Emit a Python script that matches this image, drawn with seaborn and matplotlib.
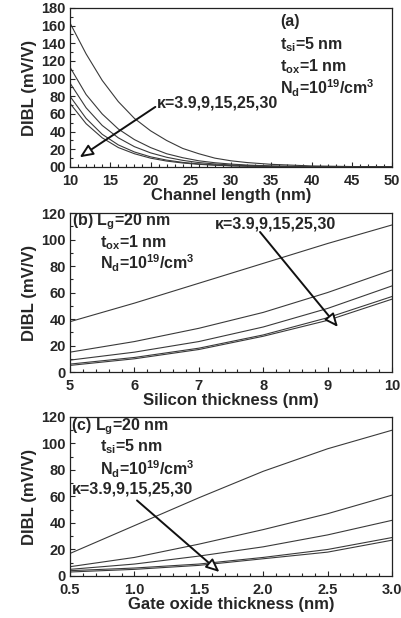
import numpy as np
import pandas as pd
import matplotlib
matplotlib.use("Agg")
import matplotlib.pyplot as plt
from matplotlib.ticker import MultipleLocator
import seaborn as sns

kappas = ["3.9", "9", "15", "25", "30"]

# Panel (a): DIBL vs channel length
lg_a = [10, 12, 14, 16, 18, 20, 22, 24, 26, 28, 30, 32, 35, 40, 45, 50]
dibl_a = {
    "3.9": [163, 128, 98, 74, 55, 41, 30, 21, 15, 10, 7, 5, 3, 1.2, 0.5, 0.2],
    "9":   [113, 82, 60, 43, 31, 22, 15, 10.5, 7, 4.8, 3.3, 2.2, 1.2, 0.4, 0.15, 0.05],
    "15":  [95, 67, 47, 33, 23, 16, 11, 7.5, 5, 3.4, 2.3, 1.5, 0.8, 0.25, 0.08, 0.03],
    "25":  [80, 55, 37, 25, 17, 11.5, 7.8, 5.2, 3.5, 2.3, 1.5, 1.0, 0.5, 0.15, 0.05, 0.02],
    "30":  [72, 49, 33, 22, 15, 10, 6.7, 4.5, 3, 2, 1.3, 0.9, 0.45, 0.12, 0.04, 0.01],
}
# Panel (b): DIBL vs silicon thickness
tsi_b = [5, 6, 7, 8, 9, 10]
dibl_b = {
    "3.9": [38, 52, 67, 82, 97, 111],
    "9":   [15, 23, 33, 45, 60, 77],
    "15":  [9, 15, 23, 34, 48, 65],
    "25":  [6, 11, 18, 28, 41, 57],
    "30":  [5, 10, 17, 27, 39, 55],
}
# Panel (c): DIBL vs gate oxide thickness
tox_c = [0.5, 1.0, 1.5, 2.0, 2.5, 3.0]
dibl_c = {
    "3.9": [17, 38, 59, 79, 96, 110],
    "9":   [7, 14, 24, 35, 47, 61],
    "15":  [5, 9, 15, 22, 31, 42],
    "25":  [4, 6, 9, 14, 20, 29],
    "30":  [3, 5, 8, 13, 18, 27],
}

sns.set_style("ticks")
plt.rcParams["font.family"] = ["Liberation Sans", "DejaVu Sans"]
plt.rcParams["font.weight"] = "bold"
plt.rcParams["axes.labelweight"] = "bold"
plt.rcParams["mathtext.fontset"] = "custom"
plt.rcParams["mathtext.rm"] = "Liberation Sans:bold"
plt.rcParams["mathtext.bf"] = "Liberation Sans:bold"
plt.rcParams["mathtext.it"] = "Liberation Sans:bold"


def long_df(x, d):
    rows = []
    for k in kappas:
        for xi, yi in zip(x, d[k]):
            rows.append({"x": xi, "y": yi, "kappa": k})
    return pd.DataFrame(rows)


fig = plt.figure(figsize=(4.01, 6.18), dpi=100)
W = 0.803
H = 0.2573
axa = fig.add_axes([0.1746, 0.7298, W, H])
axb = fig.add_axes([0.1746, 0.398, W, H])
axc = fig.add_axes([0.1746, 0.068, W, H])

TICK_FS = 10.5
LAB_FS = 12
fs = 11.5

pal = {k: "#3a3a3a" for k in kappas}
for ax, x, d in [(axa, lg_a, dibl_a), (axb, tsi_b, dibl_b), (axc, tox_c, dibl_c)]:
    sns.lineplot(data=long_df(x, d), x="x", y="y", hue="kappa", palette=pal,
                 estimator=None, legend=False, linewidth=0.8, ax=ax)
    ax.tick_params(direction="in", which="both", labelsize=TICK_FS, width=0.8)
    ax.tick_params(which="major", length=3.5)
    ax.tick_params(axis="x", which="major", pad=5)
    ax.tick_params(axis="y", which="major", pad=3)
    ax.tick_params(which="minor", length=2)
    for s in ax.spines.values():
        s.set_linewidth(0.9)
        s.set_color("#222222")
    ax.set_ylabel("DIBL (mV/V)", fontsize=LAB_FS, fontweight="bold", labelpad=3)

# Panel (a)
axa.set_xlim(10, 50)
axa.set_ylim(0, 180)
axa.set_xticks(range(10, 51, 5))
axa.set_yticks(range(0, 181, 20))
axa.set_yticklabels(["00"] + [str(v) for v in range(20, 181, 20)], fontweight="bold")
axa.set_xticklabels([str(v) for v in range(10, 51, 5)], fontweight="bold")
axa.xaxis.set_minor_locator(MultipleLocator(1))
axa.yaxis.set_minor_locator(MultipleLocator(10))
axa.set_xlabel("Channel length (nm)", fontsize=LAB_FS, fontweight="bold", labelpad=0)
axa.text(0.652, 0.912, "(a)", transform=axa.transAxes, fontsize=fs, fontweight="bold", va="center")
axa.text(0.652, 0.767, r"t$_\mathregular{si}$=5 nm", transform=axa.transAxes, fontsize=fs, fontweight="bold", va="center")
axa.text(0.652, 0.629, r"t$_\mathregular{ox}$=1 nm", transform=axa.transAxes, fontsize=fs, fontweight="bold", va="center")
axa.text(0.652, 0.497, r"N$_\mathregular{d}$=10$^\mathregular{19}$/cm$^\mathregular{3}$", transform=axa.transAxes, fontsize=fs, fontweight="bold", va="center")
axa.text(0.27, 0.40, "κ=3.9,9,15,25,30", transform=axa.transAxes, fontsize=fs, fontweight="bold", va="center")
arrow = dict(arrowstyle="-|>,head_length=0.8,head_width=0.35", fc="white", ec="#111111", lw=1.4, shrinkA=0, shrinkB=0)
axa.annotate("", xy=(11.2, 11), xytext=(20.6, 68), arrowprops=arrow)

# Panel (b)
axb.set_xlim(5, 10)
axb.set_ylim(0, 120)
axb.set_xticks(range(5, 11))
axb.set_xticklabels([str(v) for v in range(5, 11)], fontweight="bold")
axb.set_yticks(range(0, 121, 20))
axb.set_yticklabels([str(v) for v in range(0, 121, 20)], fontweight="bold")
axb.xaxis.set_minor_locator(MultipleLocator(0.2))
axb.yaxis.set_minor_locator(MultipleLocator(10))
axb.set_xlabel("Silicon thickness (nm)", fontsize=LAB_FS, fontweight="bold", labelpad=0)
axb.text(0.006, 0.943, r"(b) L$_\mathregular{g}$=20 nm", transform=axb.transAxes, fontsize=fs, fontweight="bold", va="center")
axb.text(0.093, 0.811, r"t$_\mathregular{ox}$=1 nm", transform=axb.transAxes, fontsize=fs, fontweight="bold", va="center")
axb.text(0.093, 0.686, r"N$_\mathregular{d}$=10$^\mathregular{19}$/cm$^\mathregular{3}$", transform=axb.transAxes, fontsize=fs, fontweight="bold", va="center")
axb.text(0.45, 0.93, "κ=3.9,9,15,25,30", transform=axb.transAxes, fontsize=fs, fontweight="bold", va="center")
axb.annotate("", xy=(9.16, 34), xytext=(7.95, 105.7), arrowprops=arrow)

# Panel (c)
axc.set_xlim(0.5, 3.0)
axc.set_ylim(0, 120)
xt = [0.5, 1.0, 1.5, 2.0, 2.5, 3.0]
axc.set_xticks(xt)
axc.set_xticklabels([f"{v:.1f}" for v in xt], fontweight="bold")
axc.set_yticks(range(0, 121, 20))
axc.set_yticklabels([str(v) for v in range(0, 121, 20)], fontweight="bold")
axc.xaxis.set_minor_locator(MultipleLocator(0.1))
axc.yaxis.set_minor_locator(MultipleLocator(10))
axc.set_xlabel("Gate oxide thickness (nm)", fontsize=LAB_FS, fontweight="bold", labelpad=0)
axc.text(0.003, 0.937, r"(c) L$_\mathregular{g}$=20 nm", transform=axc.transAxes, fontsize=fs, fontweight="bold", va="center")
axc.text(0.093, 0.811, r"t$_\mathregular{si}$=5 nm", transform=axc.transAxes, fontsize=fs, fontweight="bold", va="center")
axc.text(0.093, 0.673, r"N$_\mathregular{d}$=10$^\mathregular{19}$/cm$^\mathregular{3}$", transform=axc.transAxes, fontsize=fs, fontweight="bold", va="center")
axc.text(0.006, 0.547, "κ=3.9,9,15,25,30", transform=axc.transAxes, fontsize=fs, fontweight="bold", va="center")
axc.annotate("", xy=(1.66, 3), xytext=(1.02, 57), arrowprops=arrow)

fig.savefig("out.png", dpi=100, facecolor="white")
